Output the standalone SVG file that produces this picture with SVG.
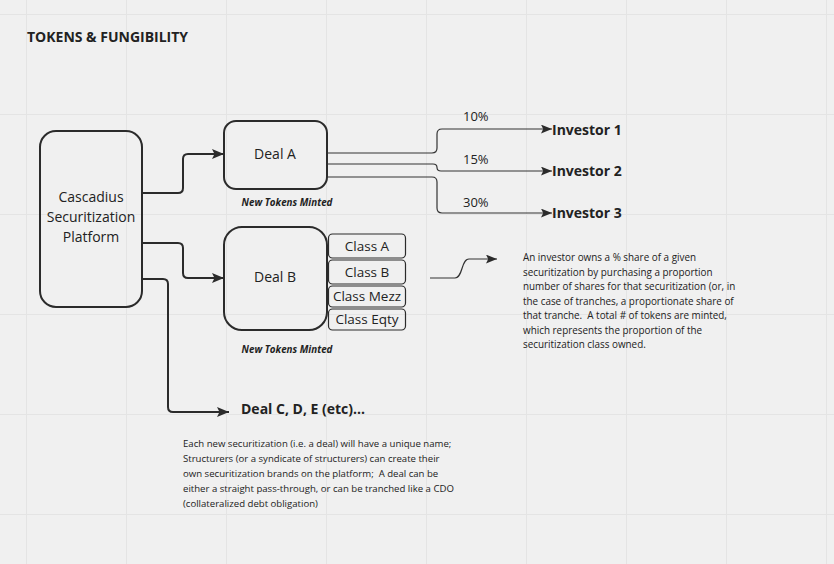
<svg xmlns="http://www.w3.org/2000/svg" width="834" height="564" viewBox="0 0 834 564">
<defs>
<pattern id="grid" x="26" y="14" width="100" height="100" patternUnits="userSpaceOnUse">
<path d="M0,0 H100 M0,0 V100" stroke="#e4e4e4" stroke-width="2" fill="none"/>
</pattern>
<marker id="arrL" viewBox="0 0 12 10" refX="12" refY="5" markerWidth="12" markerHeight="10" markerUnits="userSpaceOnUse" orient="auto">
<path d="M0,0 L12,5 L0,10 L2.5,5 Z" fill="#2b2b2b"/>
</marker>
<marker id="arrS" viewBox="0 0 10 8" refX="10" refY="4" markerWidth="11" markerHeight="9" markerUnits="userSpaceOnUse" orient="auto">
<path d="M0,0 L10,4 L0,8 L2,4 Z" fill="#2b2b2b"/>
</marker>
<style>
text{font-family:"Open Sans","Noto Sans","Liberation Sans",sans-serif;fill:#222;white-space:pre}
.box{fill:none;stroke:#2b2b2b;stroke-width:2}
.cls{fill:none;stroke:#2b2b2b;stroke-width:1.2}
.lbl{font-size:14px;text-anchor:middle}
.clbl{font-size:13.5px;text-anchor:middle}
.minted{font-size:9.8px;font-weight:bold;font-style:italic;text-anchor:middle}
.conn{fill:none;stroke:#2b2b2b;stroke-width:2}
.thin{fill:none;stroke:#333;stroke-width:1.2}
.pct{font-size:13px}
.inv{font-size:14px;font-weight:bold}
.note{font-size:9.6px}
.noteR{font-size:9.9px}
</style>
</defs>
<rect width="834" height="564" fill="#f0f0f0"/>
<rect width="834" height="564" fill="url(#grid)"/>
<text x="27" y="42" style="font-size:14px;font-weight:bold">TOKENS &amp; FUNGIBILITY</text>

<g id="platform">
<rect class="box" x="40" y="131" width="102" height="176" rx="16"/>
<text class="lbl" x="91" y="202">Cascadius</text>
<text class="lbl" x="91" y="222">Securitization</text>
<text class="lbl" x="91" y="242">Platform</text>
</g>

<g id="dealA">
<rect class="box" x="224" y="121" width="103" height="68" rx="12"/>
<text class="lbl" x="275" y="159">Deal A</text>
<text class="minted" x="287" y="206">New Tokens Minted</text>
</g>

<g id="dealB">
<rect class="box" x="224" y="227" width="103" height="103" rx="18"/>
<text class="lbl" x="275" y="282">Deal B</text>
<text class="minted" x="287" y="353">New Tokens Minted</text>
</g>

<g id="classA">
<rect class="cls" x="328.5" y="234" width="77" height="24" rx="4"/>
<text class="clbl" x="367" y="251">Class A</text>
</g>
<g id="classB">
<rect class="cls" x="328.5" y="260" width="77" height="24" rx="4"/>
<text class="clbl" x="367" y="277">Class B</text>
</g>
<g id="classMezz">
<rect class="cls" x="328.5" y="286" width="77" height="21" rx="4"/>
<text class="clbl" x="367" y="301">Class Mezz</text>
</g>
<g id="classEqty">
<rect class="cls" x="328.5" y="309" width="77" height="21" rx="4"/>
<text class="clbl" x="367" y="324">Class Eqty</text>
</g>

<g id="dealC">
<text x="241" y="414" style="font-size:14px;font-weight:bold">Deal C, D, E (etc)...</text>
</g>

<g id="investor1"><text class="inv" x="552" y="135">Investor 1</text></g>
<g id="investor2"><text class="inv" x="552" y="176">Investor 2</text></g>
<g id="investor3"><text class="inv" x="552" y="218">Investor 3</text></g>

<g id="connectors">
<path class="conn" d="M142,193 H178 Q183,193 183,188 V159 Q183,154 188,154 H224" marker-end="url(#arrL)"/>
<path class="conn" d="M142,243 H178 Q183,243 183,248 V273 Q183,278 188,278 H224" marker-end="url(#arrL)"/>
<path class="conn" d="M142,279 H163 Q168,279 168,284 V407 Q168,412 173,412 H229" marker-end="url(#arrL)"/>
<path class="thin" d="M327,153 H432 Q437,153 437,148 V134 Q437,129 442,129 H552" marker-end="url(#arrS)"/>
<path class="thin" d="M327,164 H433 Q437,164 437,167.5 Q437,171 441,171 H552" marker-end="url(#arrS)"/>
<path class="thin" d="M327,177 H432 Q437,177 437,182 V208 Q437,213 442,213 H552" marker-end="url(#arrS)"/>
<path class="thin" d="M430,278 H455 C463,278 461,259 469,259 H497" marker-end="url(#arrS)"/>
<text class="pct" x="463" y="121">10%</text>
<text class="pct" x="463" y="164">15%</text>
<text class="pct" x="463" y="207">30%</text>
</g>

<g id="noteRight">
<text class="noteR" x="523" y="261">An investor owns a % share of a given</text>
<text class="noteR" x="523" y="275.5">securitization by purchasing a proportion</text>
<text class="noteR" x="523" y="290">number of shares for that securitization (or, in</text>
<text class="noteR" x="523" y="304.5">the case of tranches, a proportionate share of</text>
<text class="noteR" x="523" y="319" xml:space="preserve">that tranche.  A total # of tokens are minted,</text>
<text class="noteR" x="523" y="333.5">which represents the proportion of the</text>
<text class="noteR" x="523" y="348">securitization class owned.</text>
</g>

<g id="noteBottom">
<text class="note" x="183" y="447">Each new securitization (i.e. a deal) will have a unique name;</text>
<text class="note" x="183" y="462">Structurers (or a syndicate of structurers) can create their</text>
<text class="note" x="183" y="477" xml:space="preserve">own securitization brands on the platform;  A deal can be</text>
<text class="note" x="183" y="492">either a straight pass-through, or can be tranched like a CDO</text>
<text class="note" x="183" y="507">(collateralized debt obligation)</text>
</g>
</svg>
